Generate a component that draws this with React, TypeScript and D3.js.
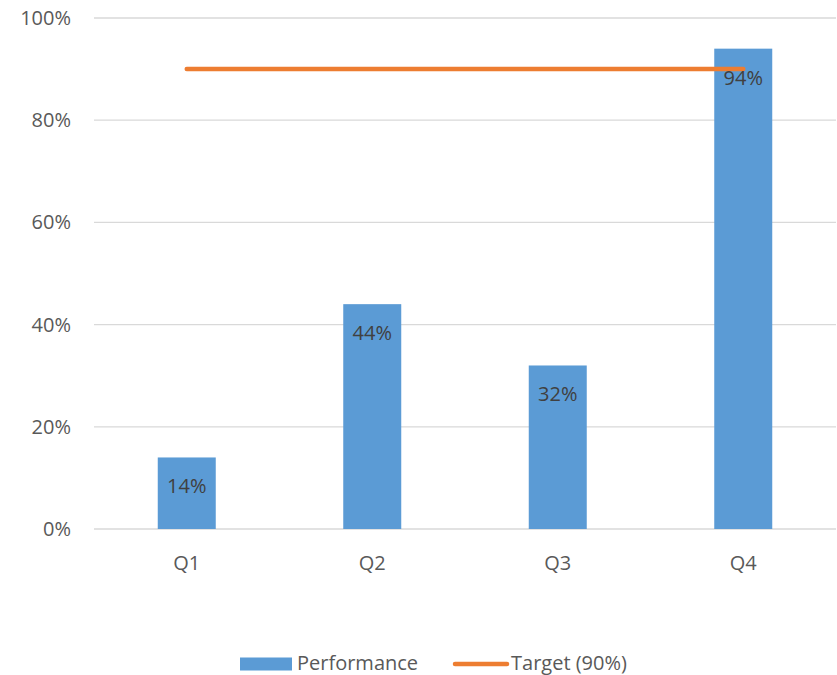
import React from "react";
import * as d3 from "d3";

const categories = ["Q1", "Q2", "Q3", "Q4"];
const performance = [0.14, 0.44, 0.32, 0.94];
const target = 0.9;
const yTicks = [0, 0.2, 0.4, 0.6, 0.8, 1.0];
const seriesNames = ["Performance", "Target (90%)"];

const W = 837;
const H = 675;
const FONT = "'Open Sans', sans-serif";
const FS = 20;

export default function App() {
  const band = d3.scaleBand<string>().domain(categories).range([94, 836]);
  const y = d3.scaleLinear().domain([0, 1]).range([529, 18]);
  const fmt = d3.format(".0%");
  const center = (c: string) => (band(c) as number) + band.bandwidth() / 2;
  const barW = 58;

  const lineGen = d3.line<number>().x((_, i) => center(categories[i])).y((v) => y(v));
  const targetVals = categories.map(() => target);

  return (
    <svg width={W} height={H} style={{ position: "absolute", left: 0, top: 0, background: "#fff" }}>
      {yTicks.map((t) => (
        <g key={t}>
          <line x1={94} x2={836} y1={y(t)} y2={y(t)} stroke="#d9d9d9" strokeWidth={1.3} />
          <text x={71} y={y(t)} dy="0.35em" textAnchor="end" fontFamily={FONT} fontSize={FS} fill="#595959">
            {fmt(t)}
          </text>
        </g>
      ))}
      {categories.map((c, i) => (
        <g key={c}>
          <rect x={center(c) - barW / 2} y={y(performance[i])} width={barW} height={y(0) - y(performance[i])} fill="#5b9bd5" />
          <text x={center(c)} y={563} dy="0.35em" textAnchor="middle" fontFamily={FONT} fontSize={FS} fill="#595959">
            {c}
          </text>
        </g>
      ))}
      <path d={lineGen(targetVals) || ""} fill="none" stroke="#ed7d31" strokeWidth={4.5} strokeLinecap="round" />
      {categories.map((c, i) => (
        <text key={c} x={center(c)} y={y(performance[i]) + 29} dy="0.35em" textAnchor="middle" fontFamily={FONT} fontSize={FS} fill="#404040">
          {fmt(performance[i])}
        </text>
      ))}
      {/* legend */}
      <rect x={240} y={657.5} width={52} height={13} fill="#5b9bd5" />
      <text x={297} y={663} dy="0.35em" fontFamily={FONT} fontSize={FS} fill="#595959">{seriesNames[0]}</text>
      <line x1={455} x2={507} y1={664} y2={664} stroke="#ed7d31" strokeWidth={4.5} strokeLinecap="round" />
      <text x={511} y={663} dy="0.35em" fontFamily={FONT} fontSize={FS} fill="#595959">{seriesNames[1]}</text>
    </svg>
  );
}
